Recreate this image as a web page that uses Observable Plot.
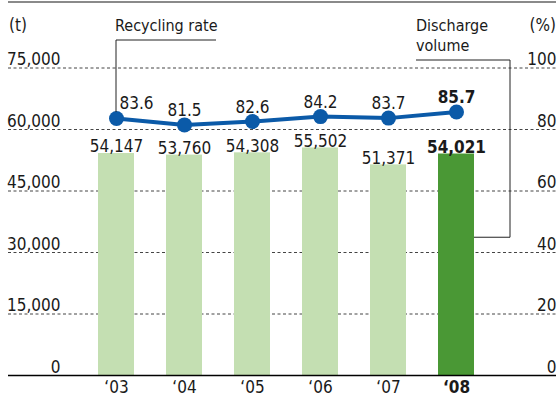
<!DOCTYPE html>
<html><head><meta charset="utf-8">
<script src="https://cdn.jsdelivr.net/npm/d3@7"></script>
<script src="https://cdn.jsdelivr.net/npm/@observablehq/plot@0.6"></script>
<style>body{margin:0;background:#fff} svg{display:block}</style>
</head><body><div id="chart"></div>
<script>
const years = ["‘03", "‘04", "‘05", "‘06", "‘07", "‘08"];
const volume = [54147, 53760, 54308, 55502, 51371, 54021];
const rate = [83.6, 81.5, 82.6, 84.2, 83.7, 85.7];
const leftTicks = [0, 15000, 30000, 45000, 60000, 75000];
const rightTicks = [0, 20, 40, 60, 80, 100];

const data = years.map((y, i) => ({year: y, volume: volume[i], rate: rate[i], latest: i === years.length - 1}));
const pct = d => d * 750; // 100% maps to 75,000 t
const FONT = '"DejaVu Sans Condensed","Liberation Sans Narrow",sans-serif';
const fmt = d3.format(",");
const BLUE = "#0b5aa8";

const plot = Plot.plot({
  width: 559, height: 400,
  marginLeft: 8, marginRight: 3, marginTop: 67.5, marginBottom: 25,
  style: {fontFamily: FONT, fontSize: "17px", color: "#1a1a1a", background: "#fff", overflow: "visible"},
  x: {domain: years, range: [82, 490], paddingInner: 0.47, paddingOuter: 0.235, axis: null},
  y: {domain: [0, 75000], axis: null},
  marks: [
    Plot.ruleY(leftTicks.filter(t => t > 0), {stroke: "#444", strokeDasharray: "3,2.5", strokeWidth: 1}),
    Plot.barY(data, {x: "year", y: "volume", fill: d => d.latest ? "#4a9835" : "#c4dfb2"}),
    Plot.ruleY([0], {stroke: "#000", strokeWidth: 1.5}),
    Plot.text(leftTicks, {y: d => d, text: d => fmt(d), frameAnchor: "left", dx: 52, textAnchor: "end", lineAnchor: "bottom", dy: -3}),
    Plot.text(rightTicks, {y: pct, text: d => String(d), frameAnchor: "right", textAnchor: "end", lineAnchor: "bottom", dy: -3}),
    Plot.text(data, {x: "year", text: "year", frameAnchor: "bottom", lineAnchor: "top", dy: 5, filter: d => !d.latest}),
    Plot.text(data, {x: "year", text: "year", frameAnchor: "bottom", lineAnchor: "top", dy: 5, fontWeight: "bold", filter: d => d.latest}),
    Plot.text(data, {x: "year", y: "volume", text: d => fmt(d.volume), lineAnchor: "bottom", dy: -1, filter: d => !d.latest}),
    Plot.text(data, {x: "year", y: "volume", text: d => fmt(d.volume), lineAnchor: "bottom", dy: -1, fontWeight: "bold", filter: d => d.latest}),
    Plot.line(data, {x: "year", y: d => pct(d.rate), stroke: BLUE, strokeWidth: 4}),
    Plot.dot(data, {x: "year", y: d => pct(d.rate), r: 7.5, fill: BLUE}),
    Plot.text(data, {x: "year", y: d => pct(d.rate), text: d => d.rate.toFixed(1), lineAnchor: "bottom", dy: -9, dx: 20, filter: (d, i) => i === 0}),
    Plot.text(data, {x: "year", y: d => pct(d.rate), text: d => d.rate.toFixed(1), lineAnchor: "bottom", dy: -9, filter: (d, i) => i > 0 && !d.latest}),
    Plot.text(data, {x: "year", y: d => pct(d.rate), text: d => d.rate.toFixed(1), lineAnchor: "bottom", dy: -9, fontWeight: "bold", filter: d => d.latest})
  ]
});

// Annotations (frame rule, units, callouts) positioned from the scales
const svg = d3.select(plot);
const xs = plot.scale("x"), ys = plot.scale("y");
const bw = xs.bandwidth;
const cx0 = xs.apply(years[0]) + bw / 2;
const cy0 = ys.apply(pct(rate[0]));
const xLastRight = xs.apply(years[years.length - 1]) + bw;
const g = svg.append("g").attr("font-family", FONT).attr("font-size", 17).attr("fill", "#1a1a1a").attr("text-anchor", "start");
g.append("line").attr("x1", 8).attr("x2", 556).attr("y1", 2).attr("y2", 2).attr("stroke", "#8a8a8a").attr("stroke-width", 2);
g.append("text").attr("x", 9).attr("y", 31).text("(t)");
g.append("text").attr("x", 556).attr("y", 31).attr("text-anchor", "end").text("(%)");
g.append("text").attr("x", cx0 - 1).attr("y", 31).attr("font-size", 16).text("Recycling rate");
g.append("path").attr("d", `M${cx0},${cy0 - 6}V40H${cx0 + 100}`).attr("fill", "none").attr("stroke", "#222").attr("stroke-width", 1);
g.append("text").attr("x", xLastRight - 58).attr("y", 31).attr("font-size", 16).text("Discharge");
g.append("text").attr("x", xLastRight - 58).attr("y", 51).attr("font-size", 16).text("volume");
g.append("path").attr("d", `M${xLastRight},${ys.apply(33600)}H${xLastRight + 36}V60H${xLastRight - 58}`).attr("fill", "none").attr("stroke", "#222").attr("stroke-width", 1);

document.getElementById("chart").appendChild(plot);
</script>
</body></html>
